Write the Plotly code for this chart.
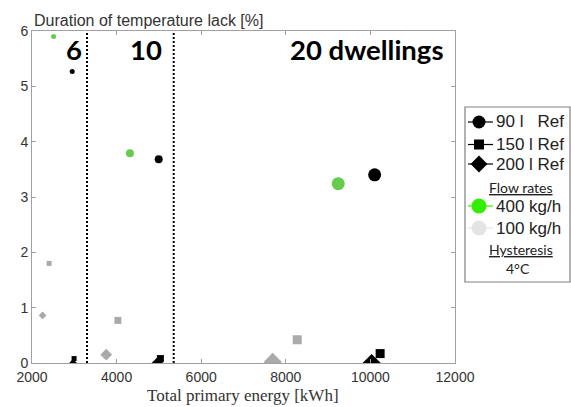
import plotly.graph_objects as go

# ---------------- data ----------------
dwellings = [6, 10, 20]
group_labels = ["6", "10", "20 dwellings"]
group_label_x = [2995, 4690, 9910]
group_label_y = [5.665, 5.665, 5.665]
group_bounds = [3300, 5350]

ref90_energy = [2950, 4995, 10100]
ref90_lack = [5.27, 3.68, 3.40]
ref150_energy = [2995, 5035, 10230]
ref150_lack = [0.08, 0.08, 0.17]
ref200_energy = [2970, 4965, 10030]
ref200_lack = [0.0, 0.0, 0.0]
flow400_energy = [2510, 4315, 9240]
flow400_lack = [5.90, 3.79, 3.24]
flow100_150_energy = [2405, 4030, 8270]
flow100_150_lack = [1.80, 0.77, 0.42]
flow100_200_energy = [2250, 3755, 7690]
flow100_200_lack = [0.86, 0.15, 0.02]

x_ticks = [2000, 4000, 6000, 8000, 10000, 12000]
x_tick_text = ["2000", "4000", "6000", "8000", "10000", "12000"]
y_ticks = [0, 1, 2, 3, 4, 5, 6]

legend_entries = ["90\u00a0l\u00a0\u00a0\u00a0Ref", "150\u00a0l\u00a0Ref", "200\u00a0l\u00a0Ref",
                  "400\u00a0kg/h", "100\u00a0kg/h"]

# ---------------- styles ----------------
size_by_dw = {6: 5, 10: 8, 20: 13}
sq_size_by_dw = {6: 5, 10: 7, 20: 9}
BLACK = "#000000"
GREEN = "#66cc4d"
GRAY = "#aaaaaa"
LEG_GREEN = "#33ee00"
LEG_GRAY = "#e4e4e4"
AXC = "#a0a0a0"

fig = go.Figure()

def add_series(xs, ys, symbol, color, sizes):
    fig.add_trace(go.Scatter(
        x=xs, y=ys, mode="markers", showlegend=False,
        marker=dict(symbol=symbol, color=color, size=sizes, opacity=1, line=dict(width=0)),
        xaxis="x", yaxis="y"))

circ = [size_by_dw[d] for d in dwellings]
sq = [sq_size_by_dw[d] for d in dwellings]
dia = [size_by_dw[d] + 1 for d in dwellings]

add_series(flow100_200_energy, flow100_200_lack, "diamond", GRAY, dia)
add_series(flow100_150_energy, flow100_150_lack, "square", GRAY, sq)
add_series(flow400_energy, flow400_lack, "circle", GREEN, circ)
add_series(ref200_energy, ref200_lack, "diamond", BLACK, dia)
add_series(ref150_energy, ref150_lack, "square", BLACK, sq)
add_series(ref90_energy, ref90_lack, "circle", BLACK, circ)

# group separators
for b in group_bounds:
    fig.add_shape(type="line", xref="x", yref="y", x0=b, x1=b, y0=0, y1=6,
                  line=dict(color="black", width=2, dash="2px,2px"))

# group labels
for t, gx, gy in zip(group_labels, group_label_x, group_label_y):
    fig.add_annotation(x=gx, y=gy, xref="x", yref="y", text="<b>" + t + "</b>",
                       showarrow=False, font=dict(family="Lato", size=27.5, color="black"))

# ---------------- manual legend (own hidden axis, pixel-like units) ----------------
leg_rows = [15, 37.5, 57, 99, 121]
leg_syms = ["circle", "square", "diamond", "circle", "circle"]
leg_cols = [BLACK, BLACK, BLACK, LEG_GREEN, LEG_GRAY]
leg_sizes = [13, 10, 13, 15, 15]
leg_linecols = [BLACK, BLACK, BLACK, LEG_GREEN, LEG_GRAY]
for r, s, c, sz, lc, txt in zip(leg_rows, leg_syms, leg_cols, leg_sizes, leg_linecols, legend_entries):
    fig.add_trace(go.Scatter(x=[3, 14, 28], y=[r, r, r], mode="lines", showlegend=False,
                             line=dict(color=lc, width=1.2), xaxis="x2", yaxis="y2",
                             hoverinfo="skip"))
    fig.add_trace(go.Scatter(x=[14], y=[r], mode="markers", showlegend=False,
                             marker=dict(symbol=s, color=c, size=sz, opacity=1, line=dict(width=0)),
                             xaxis="x2", yaxis="y2", hoverinfo="skip"))
    fig.add_annotation(x=29, y=r, xref="x2", yref="y2", text=txt, showarrow=False,
                       xanchor="left", yanchor="middle",
                       font=dict(family="Liberation Sans", size=17, color="#222"))

for txt, r in [("Flow rates", 80), ("Hysteresis", 142)]:
    fig.add_annotation(x=56, y=r, xref="x2", yref="y2", text=txt, showarrow=False,
                       xanchor="center", yanchor="middle",
                       font=dict(family="Lato", size=14, color="#222", lineposition="under"))
fig.add_annotation(x=53, y=161, xref="x2", yref="y2", text="4°C", showarrow=False,
                   xanchor="center", yanchor="middle",
                   font=dict(family="Lato", size=14, color="#222"))

fig.add_shape(type="rect", xref="x2 domain", yref="y2 domain", x0=0, x1=1, y0=0, y1=1,
              line=dict(color="#808080", width=1.2), fillcolor="rgba(0,0,0,0)")

# y-axis title at top-left
fig.add_annotation(x=0, y=1.033, xref="paper", yref="paper",
                   text="Duration of temperature lack [%]", showarrow=False,
                   xanchor="left", yanchor="middle",
                   font=dict(family="Liberation Sans", size=16, color="#333"))

W, H = 571, 407
L, R, T, B = 32, 1, 31, 44
pw = W - L - R
main_frac = (455 - 32) / pw
leg_x0 = (465 - 32) / pw

# x-axis title (LaTeX-like serif) below tick labels
fig.add_annotation(x=(243 - 32) / pw, y=-33 / 332, xref="paper", yref="paper",
                   text="Total primary energy [kWh]", showarrow=False,
                   xanchor="center", yanchor="middle",
                   font=dict(family="Liberation Serif", size=17, color="#333"))

fig.update_layout(
    width=W, height=H,
    margin=dict(l=L, r=R, t=T, b=B),
    paper_bgcolor="white", plot_bgcolor="white",
    showlegend=False,
    xaxis=dict(domain=[0, main_frac], range=[2000, 12000], tickvals=x_ticks,
               ticktext=x_tick_text, automargin=False, ticklabelstandoff=1,
               ticks="inside", ticklen=4, tickcolor=AXC, showline=True, linecolor=AXC,
               linewidth=1, mirror="ticks", showgrid=False, zeroline=False,
               tickfont=dict(family="Liberation Sans", size=14, color="#333")),
    yaxis=dict(range=[0, 6], tickvals=y_ticks, automargin=False,
               ticks="inside", ticklen=4, tickcolor=AXC, showline=True, linecolor=AXC,
               linewidth=1, mirror="ticks", showgrid=False, zeroline=False,
               tickfont=dict(family="Liberation Sans", size=14, color="#333")),
    xaxis2=dict(domain=[leg_x0, 1], range=[0, 105], visible=False, anchor="y2",
                automargin=False),
    yaxis2=dict(domain=[(363 - 282) / 332, (363 - 107) / 332], range=[175, 0],
                visible=False, anchor="x2", automargin=False),
)

# remove the default page-body margin so the figure fills the 571x407 window exactly
fig.write_html("out.html", config={"displayModeBar": False},
               post_script="document.body.style.margin='0';document.body.style.overflow='hidden';")
